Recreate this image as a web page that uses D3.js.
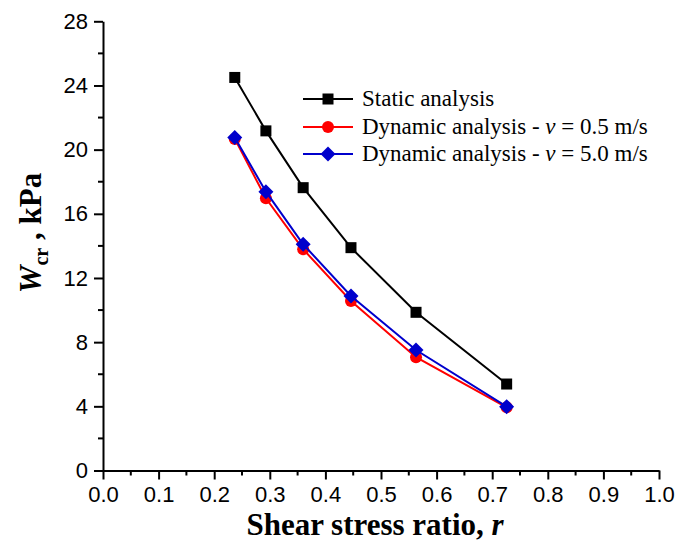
<!DOCTYPE html>
<html><head><meta charset="utf-8">
<script src="https://cdn.jsdelivr.net/npm/d3@7"></script>
<style>body{margin:0;background:#fff}</style>
</head><body>
<script>
const rValues = [0.237, 0.293, 0.360, 0.446, 0.563, 0.726];
const staticW = [24.5, 21.17, 17.63, 13.89, 9.86, 5.39];
const dyn05W = [20.67, 16.97, 13.79, 10.57, 7.06, 3.94];
const dyn50W = [20.75, 17.38, 14.10, 10.88, 7.51, 3.98];
const xTicks = [0,0.1,0.2,0.3,0.4,0.5,0.6,0.7,0.8,0.9,1.0];
const yTicks = [0,4,8,12,16,20,24,28];
const seriesNames = ["Static analysis", "Dynamic analysis - ", "Dynamic analysis - "];

const W=690,H=549;
const svg=d3.select("body").append("svg").attr("width",W).attr("height",H);
const x=d3.scaleLinear().domain([0,1]).range([103,659]);
const y=d3.scaleLinear().domain([0,28]).range([470.5,21.3]);

// axes
const xAxis=svg.append("g").attr("transform",`translate(0,${y(0)})`)
  .call(d3.axisBottom(x).tickValues(xTicks).tickFormat(d3.format(".1f")).tickSizeInner(9).tickSizeOuter(0).tickPadding(7));
const yAxis=svg.append("g").attr("transform",`translate(${x(0)},0)`)
  .call(d3.axisLeft(y).tickValues(yTicks).tickFormat(d3.format("d")).tickSizeInner(9).tickSizeOuter(0).tickPadding(6));
[xAxis,yAxis].forEach(g=>{
  g.select(".domain").attr("stroke","#000").attr("stroke-width",2);
  g.selectAll(".tick line").attr("stroke","#000").attr("stroke-width",2);
  g.selectAll("text").attr("font-family","Liberation Sans, Arial, sans-serif").attr("font-size",22).attr("fill","#000");
});
// minor ticks
const xMinor=xTicks.slice(0,-1).map(d=>d+0.05);
const yMinor=yTicks.slice(0,-1).map(d=>d+2);
svg.append("g").selectAll("line").data(xMinor).join("line")
  .attr("x1",d=>x(d)).attr("x2",d=>x(d)).attr("y1",y(0)).attr("y2",y(0)+5)
  .attr("stroke","#000").attr("stroke-width",2);
svg.append("g").selectAll("line").data(yMinor).join("line")
  .attr("y1",d=>y(d)).attr("y2",d=>y(d)).attr("x1",x(0)).attr("x2",x(0)-5)
  .attr("stroke","#000").attr("stroke-width",2);

// axis titles
svg.append("text").attr("x",375).attr("y",535).attr("text-anchor","middle")
  .attr("font-family","Liberation Serif, Times New Roman, serif").attr("font-weight","bold").attr("font-size",31)
  .call(t=>{t.append("tspan").text("Shear stress ratio, ");t.append("tspan").attr("font-style","italic").text("r");});
const yt=svg.append("text").attr("transform","translate(41,233) rotate(-90)").attr("text-anchor","middle")
  .attr("font-family","Liberation Serif, Times New Roman, serif").attr("font-weight","bold").attr("font-size",31);
yt.append("tspan").attr("font-style","italic").text("W");
yt.append("tspan").attr("font-size",20).attr("dy",7).text("cr");
yt.append("tspan").attr("dy",-7).text(" , kPa");

const line=d3.line().x(d=>x(d[0])).y(d=>y(d[1]));
const series=[
  {vals:staticW,color:"#000000",shape:"square"},
  {vals:dyn05W,color:"#ff0000",shape:"circle"},
  {vals:dyn50W,color:"#0000cc",shape:"diamond"}
];
function marker(g,shape,color,cx,cy){
  if(shape==="square") g.append("rect").attr("x",cx-5.5).attr("y",cy-5.5).attr("width",11).attr("height",11).attr("fill",color);
  else if(shape==="circle") g.append("circle").attr("cx",cx).attr("cy",cy).attr("r",6).attr("fill",color);
  else g.append("path").attr("d",`M${cx},${cy-7.5}L${cx+7.5},${cy}L${cx},${cy+7.5}L${cx-7.5},${cy}Z`).attr("fill",color);
}
series.forEach(s=>{
  const pts=rValues.map((r,i)=>[r,s.vals[i]]);
  svg.append("path").attr("d",line(pts)).attr("fill","none").attr("stroke",s.color).attr("stroke-width",2);
  const g=svg.append("g");
  pts.forEach(p=>marker(g,s.shape,s.color,x(p[0]),y(p[1])));
});

// legend
const legY=[99,127,154];
const lg=svg.append("g");
series.forEach((s,i)=>{
  lg.append("line").attr("x1",303).attr("x2",353).attr("y1",legY[i]).attr("y2",legY[i]).attr("stroke",s.color).attr("stroke-width",2);
  marker(lg,s.shape,s.color,328,legY[i]);
  const t=lg.append("text").attr("x",362).attr("y",legY[i]+7).attr("font-family","Liberation Serif, Times New Roman, serif").attr("font-size",23);
  t.append("tspan").text(seriesNames[i]);
  if(i>0){
    t.append("tspan").attr("font-style","italic").text("v");
    t.append("tspan").text(i===1?" = 0.5 m/s":" = 5.0 m/s");
  }
});
</script>
</body></html>
